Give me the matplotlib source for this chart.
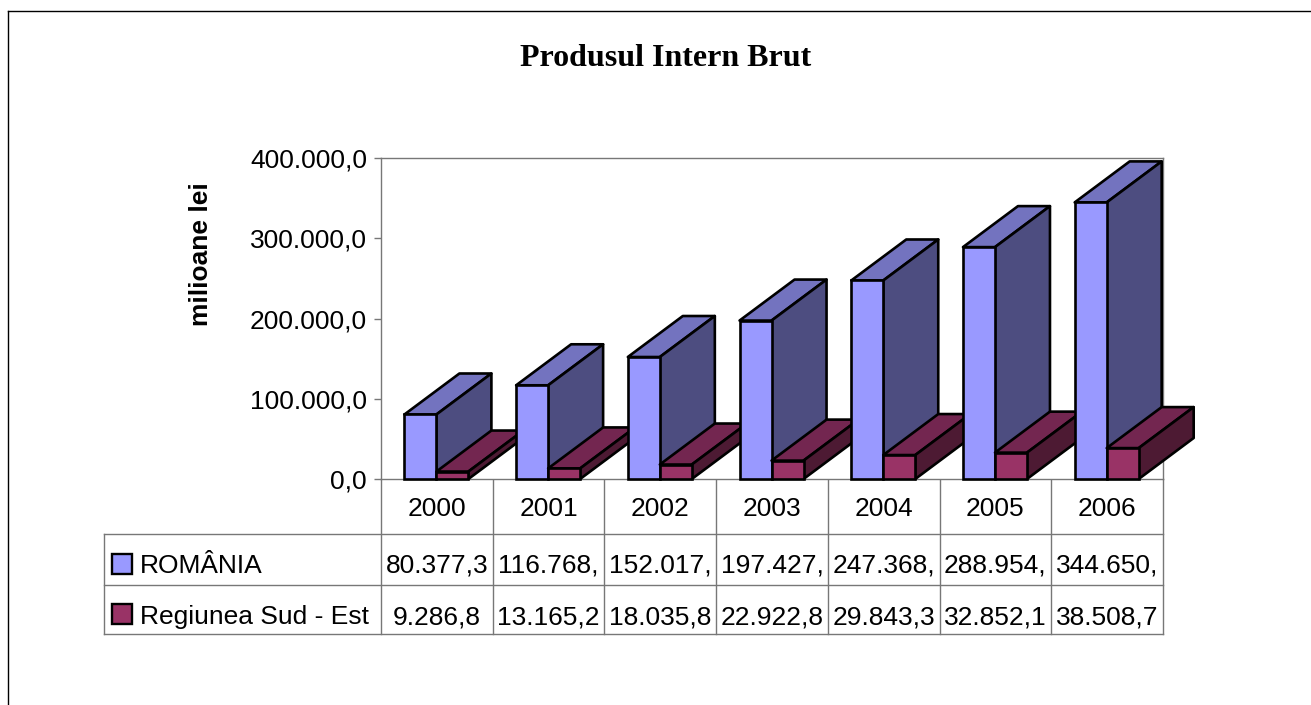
import matplotlib
matplotlib.use('Agg')
import matplotlib.pyplot as plt
from matplotlib.patches import Polygon, Rectangle

ani = ['2000', '2001', '2002', '2003', '2004', '2005', '2006']
romania = [80377.3, 116768.0, 152017.0, 197427.0, 247368.0, 288954.0, 344650.0]
sud_est = [9286.8, 13165.2, 18035.8, 22922.8, 29843.3, 32852.1, 38508.7]
romania_txt = ['80.377,3', '116.768,', '152.017,', '197.427,', '247.368,', '288.954,', '344.650,']
sud_est_txt = ['9.286,8', '13.165,2', '18.035,8', '22.922,8', '29.843,3', '32.852,1', '38.508,7']
y_ticks = [0, 100000, 200000, 300000, 400000]
y_labels = ['0,0', '100.000,0', '200.000,0', '300.000,0', '400.000,0']

W, H = 1311, 705
X0, X1, Y0, Y1 = 381, 1163, 479, 158
GRI = '#777777'
FONT = 'Liberation Sans'
FS = 19

# culori: fata, sus, lateral
C_RO = ('#9999FF', '#7373BF', '#4D4D80')
C_SE = ('#993366', '#732650', '#4D1A33')

fig = plt.figure(figsize=(W / 100, H / 100), dpi=100, facecolor='white')
ax = fig.add_axes([X0 / W, 1 - Y0 / H, (X1 - X0) / W, (Y0 - Y1) / H])
ax.set_xlim(0, len(ani))
ax.set_ylim(0, 400000)
ax.set_xticks([])
ax.set_yticks(y_ticks)
ax.set_yticklabels(y_labels, fontsize=FS, family=FONT)
ax.tick_params(axis='y', length=5, width=1, color=GRI, pad=5)
for s in ax.spines.values():
    s.set_color(GRI)
    s.set_linewidth(1)
    s.set_zorder(0)

# adancimea 3D, in unitati de date
cat_px = (X1 - X0) / len(ani)
dx = 55 / cat_px
dy = 41 / (Y0 - Y1) * 400000
latime = 32 / cat_px
start = 23.4 / cat_px
LW = 1.9


def bara(x, v, culori, z):
    edge = dict(edgecolor='black', linewidth=LW, joinstyle='round', clip_on=False, zorder=z)
    ax.add_patch(Polygon([(x, v), (x + latime, v), (x + latime + dx, v + dy), (x + dx, v + dy)],
                         facecolor=culori[1], **edge))
    ax.add_patch(Polygon([(x + latime, 0), (x + latime + dx, dy), (x + latime + dx, v + dy), (x + latime, v)],
                         facecolor=culori[2], **edge))
    ax.bar(x, v, width=latime, align='edge', facecolor=culori[0], edgecolor='black',
           linewidth=LW, clip_on=False, zorder=z)


z = 3
for i in range(len(ani)):
    bara(i + start, romania[i], C_RO, z)
    bara(i + start + latime, sud_est[i], C_SE, z + 1)
    z += 2

# strat in pixeli pentru tabel si chenar (sub bare)
ov = fig.add_axes([0, 0, 1, 1], zorder=-1)
ov.set_xlim(0, W)
ov.set_ylim(H, 0)
ov.axis('off')

ov.plot([7.7, 7.7], [H, 10.7], color='black', lw=1)
ov.plot([7.7, W], [10.7, 10.7], color='black', lw=1)

# strat pentru texte
ov2 = fig.add_axes([0, 0, 1, 1], zorder=5)
ov2.set_xlim(0, W)
ov2.set_ylim(H, 0)
ov2.axis('off')
ov2.patch.set_alpha(0)

R1, R2, R3 = 533.5, 584.5, 634
ov.plot([X0, X0], [Y0, R3], color=GRI, lw=1)
for i in range(1, len(ani) + 1):
    x = X0 + i * cat_px
    ov.plot([x, x], [Y0, R3], color=GRI, lw=1)
for y in (R1, R2, R3):
    ov.plot([104, X1], [y, y], color=GRI, lw=1)
ov.plot([104, 104], [R1, R3], color=GRI, lw=1)

for i in range(len(ani)):
    x = X0 + (i + 0.5) * cat_px
    ov2.text(x, 509, ani[i], ha='center', va='center', fontsize=FS, family=FONT)
    ov2.text(x, 565, romania_txt[i], ha='center', va='center', fontsize=FS, family=FONT)
    ov2.text(x, 617, sud_est_txt[i], ha='center', va='center', fontsize=FS, family=FONT)

ov2.add_patch(Rectangle((111.5, 554), 20, 20, facecolor=C_RO[0], edgecolor='black', lw=1.7))
ov2.add_patch(Rectangle((111.5, 604), 20, 20, facecolor=C_SE[0], edgecolor='black', lw=1.7))
ov2.text(140, 566, 'ROMÂNIA', ha='left', va='center', fontsize=FS, family=FONT)
ov2.text(140, 617, 'Regiunea Sud - Est', ha='left', va='center', fontsize=FS, family=FONT)

ov2.text(666, 58, 'Produsul Intern Brut', ha='center', va='center', fontsize=23,
         fontweight='bold', family='Liberation Serif')
ov2.text(201, 254, 'milioane lei', ha='center', va='center', rotation=90, fontsize=19,
         fontweight='bold', family=FONT)

fig.savefig('out.png', dpi=100)
